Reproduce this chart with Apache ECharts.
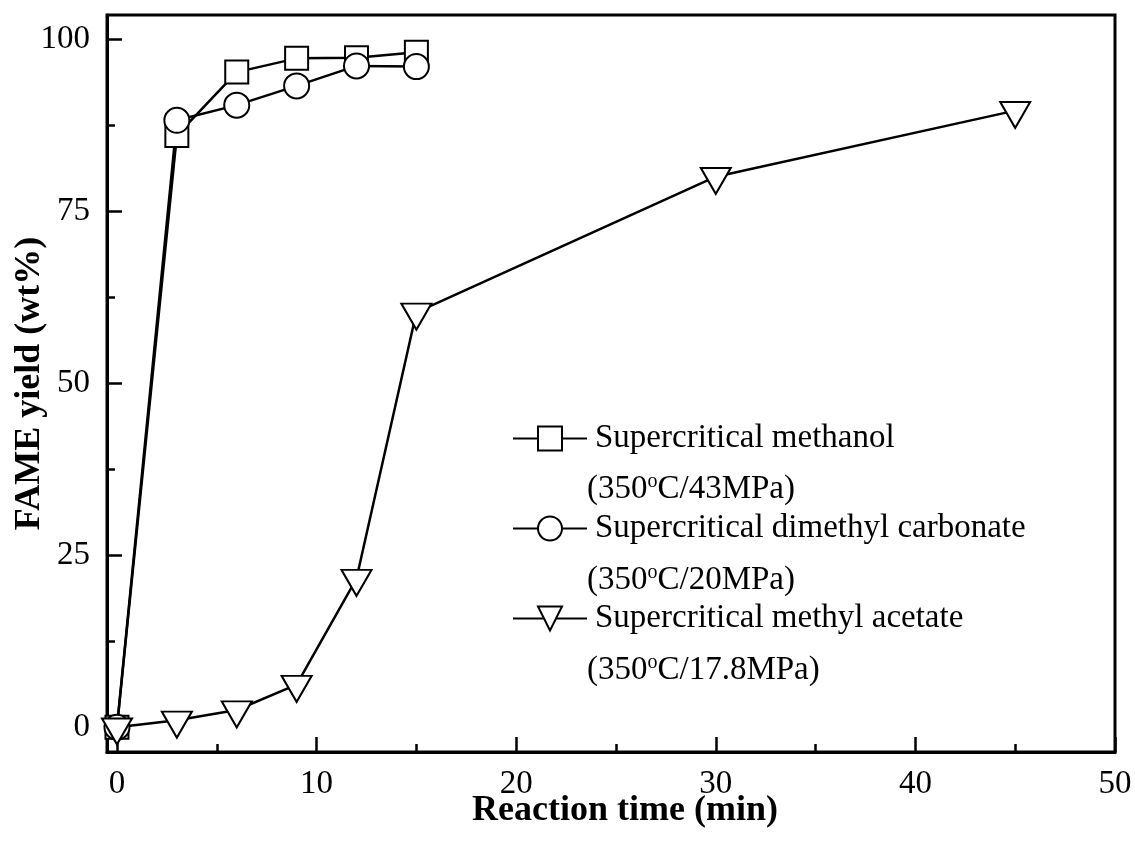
<!DOCTYPE html>
<html><head><meta charset="utf-8">
<script src="https://cdn.jsdelivr.net/npm/echarts@6/dist/echarts.min.js"></script>
<style>html,body{margin:0;padding:0;background:#fff}#c{width:1135px;height:852px}</style>
</head><body><div id="c"></div>
<script>
// ---- data ----
const timeMethanol = [0, 3, 6, 9, 12, 15];
const yieldMethanol = [0, 86.0, 95.2, 97.2, 97.3, 98.1];
const timeDMC = [0, 3, 6, 9, 12, 15];
const yieldDMC = [0, 88.2, 90.4, 93.2, 96.1, 96.0];
const timeMA = [0, 3, 6, 9, 12, 15, 30, 45];
const yieldMA = [0, 1.0, 2.5, 6.2, 21.6, 60.3, 80.0, 89.6];
const seriesNames = ['Supercritical methanol', 'Supercritical dimethyl carbonate', 'Supercritical methyl acetate'];
const conditions = [['(350', 'o', 'C/43MPa)'], ['(350', 'o', 'C/20MPa)'], ['(350', 'o', 'C/17.8MPa)']];
const xMajorTicks = [0, 10, 20, 30, 40, 50];
const xMinorTicks = [5, 15, 25, 35, 45];
const yMajorTicks = [0, 25, 50, 75, 100];
const yMinorTicks = [12.5, 37.5, 62.5, 87.5];
const xTitle = 'Reaction time (min)';
const yTitle = 'FAME yield (wt%)';

const FONT = '"Liberation Serif", "Times New Roman", serif';
const pair = (xs, ys) => xs.map((x, i) => [x, ys[i]]);
const X_MIN = -0.5, X_MAX = 50, Y_MIN = -3.6, Y_MAX = 103.5;

// text measuring for the superscript layout of the legend condition lines
const mctx = document.createElement('canvas').getContext('2d');
function textW(t, size) { mctx.font = size + 'px ' + FONT; return mctx.measureText(t).width; }

const chart = echarts.init(document.getElementById('c'), null, {renderer: 'canvas'});
const axisLineStyle = {show: true, onZero: false, lineStyle: {color: '#000', width: 3}};
const lbl = {color: '#000', fontSize: 33, fontFamily: FONT};
const symStyle = {color: '#fff', borderColor: '#000', borderWidth: 2};
const lineStyle = {color: '#000', width: 2.5};

const condLeft = 587, condTop = 473, condStep = 90.5;
const graphics = [];
conditions.forEach((c, i) => {
  const top = condTop + i * condStep;
  const w1 = textW(c[0], 33), w2 = textW(c[1], 20);
  const base = {fontFamily: FONT, fill: '#000'};
  graphics.push({type: 'text', left: condLeft, top: top, z: 100,
    style: Object.assign({text: c[0], fontSize: 33, lineHeight: 33}, base)});
  graphics.push({type: 'text', left: condLeft + w1, top: top - 1, z: 100,
    style: Object.assign({text: c[1], fontSize: 20, lineHeight: 20}, base)});
  graphics.push({type: 'text', left: condLeft + w1 + w2, top: top, z: 100,
    style: Object.assign({text: c[2], fontSize: 33, lineHeight: 33}, base)});
});

chart.setOption({
  animation: false,
  backgroundColor: '#fff',
  grid: {left: 107, right: 20, top: 15, bottom: 100, outerBoundsMode: 'none', containLabel: false,
         show: true, borderColor: '#000', borderWidth: 3, backgroundColor: '#fff'},
  xAxis: [{
    type: 'value', min: X_MIN, max: X_MAX, position: 'bottom',
    axisLine: axisLineStyle,
    axisTick: {show: true, inside: true, length: 15, customValues: xMajorTicks, lineStyle: {color: '#000', width: 2.5}},
    axisLabel: Object.assign({customValues: xMajorTicks, margin: 16, formatter: v => String(v)}, lbl),
    splitLine: {show: false},
    name: xTitle, nameLocation: 'middle', nameGap: 41, nameMoveOverlap: false,
    nameTextStyle: {color: '#000', fontSize: 36, fontWeight: 'bold', fontFamily: FONT, padding: [0, 0, 0, 28]}
  }, {
    type: 'value', min: X_MIN, max: X_MAX, position: 'bottom',
    axisLine: {show: false, onZero: false},
    axisTick: {show: true, inside: true, length: 8, customValues: xMinorTicks, lineStyle: {color: '#000', width: 2.5}},
    axisLabel: {show: false}, splitLine: {show: false}
  }],
  yAxis: [{
    type: 'value', min: Y_MIN, max: Y_MAX, position: 'left',
    axisLine: axisLineStyle,
    axisTick: {show: true, inside: true, length: 15, customValues: yMajorTicks, lineStyle: {color: '#000', width: 2.5}},
    axisLabel: Object.assign({customValues: yMajorTicks, margin: 17, formatter: v => String(v)}, lbl),
    splitLine: {show: false},
    name: yTitle, nameLocation: 'middle', nameGap: 59, nameRotate: 90, nameMoveOverlap: false,
    nameTextStyle: {color: '#000', fontSize: 36, fontWeight: 'bold', fontFamily: FONT}
  }, {
    type: 'value', min: Y_MIN, max: Y_MAX, position: 'left',
    axisLine: {show: false, onZero: false},
    axisTick: {show: true, inside: true, length: 8, customValues: yMinorTicks, lineStyle: {color: '#000', width: 2.5}},
    axisLabel: {show: false}, splitLine: {show: false}
  }],
  legend: {
    data: seriesNames, orient: 'vertical', left: 512, top: 422, padding: 0,
    itemWidth: 74, itemHeight: 30, itemGap: 57,
    textStyle: {color: '#000', fontSize: 33, fontFamily: FONT, lineHeight: 33, padding: [0, 0, 0, 3]}
  },
  graphic: graphics,
  series: [{
    name: seriesNames[0], type: 'line', data: pair(timeMethanol, yieldMethanol),
    symbol: 'rect', symbolSize: 23, showAllSymbol: true,
    itemStyle: symStyle, lineStyle: lineStyle
  }, {
    name: seriesNames[1], type: 'line', data: pair(timeDMC, yieldDMC),
    symbol: 'circle', symbolSize: 25, showAllSymbol: true,
    itemStyle: symStyle, lineStyle: lineStyle
  }, {
    name: seriesNames[2], type: 'line', data: pair(timeMA, yieldMA),
    symbol: 'path://M0,0L30,0L15,26Z', symbolSize: [30, 26], symbolOffset: [0, 4.3], showAllSymbol: true,
    itemStyle: symStyle, lineStyle: lineStyle
  }]
});
</script>
</body></html>
